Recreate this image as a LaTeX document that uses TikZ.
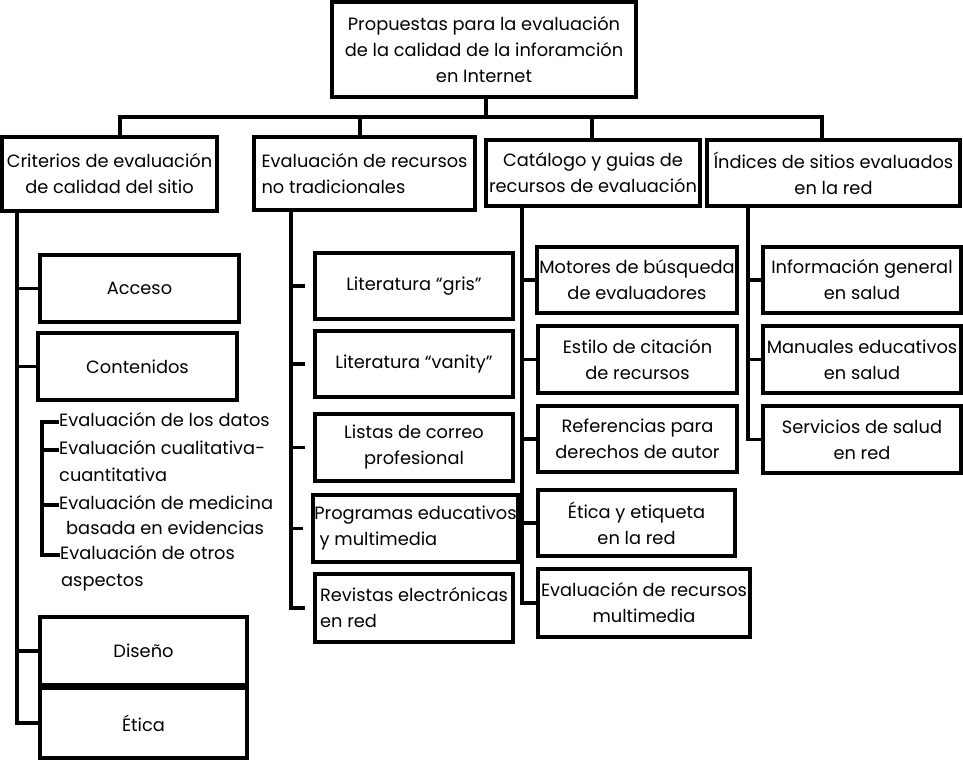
\documentclass[tikz,border=0pt]{standalone}
\usepackage{fontspec}
\setmainfont{Poppins}
\usetikzlibrary{calc}

\begin{document}
\begin{tikzpicture}[x=1pt,y=-1pt,
    caja/.style={draw, line width=3.2pt, align=center, inner sep=1pt},
    linea/.style={line width=3.4pt},
    renglon/.style={anchor=west, inner sep=0pt, text height=13pt, text depth=4pt},
    every node/.style={font=\fontsize{17.8}{26}\selectfont}]
    \useasboundingbox[fill=white] (0,0) rectangle (963,760);

    % nivel superior
    \node[caja, minimum width=304pt, minimum height=95pt] (raiz) at (484,49.5)
        {Propuestas para la evaluación\\de la calidad de la inforamción\\en Internet};

    % primer nivel
    \node[caja, minimum width=215pt, minimum height=74pt] (crit) at (109.5,174)
        {Criterios de evaluación\\de calidad del sitio};
    \node[caja, align=left, minimum width=221pt, minimum height=73pt] (evrec) at (364.5,173.5)
        {Evaluación de recursos\\no tradicionales};
    \node[caja, minimum width=214pt, minimum height=66pt] (catal) at (593,173)
        {Catálogo y guias de\\recursos de evaluación};
    \node[caja, minimum width=253pt, minimum height=66pt] (indic) at (833.5,173)
        {Índices de sitios evaluados\\en la red};

    % bus
    \coordinate (b1) at (120,117);
    \coordinate (b2) at (360,117);
    \coordinate (b3) at (592,117);
    \coordinate (b4) at (822,117);
    \draw[linea] (raiz.south -| 486,0) -- (486,117);
    \draw[linea, line cap=rect] (b1) -- (b4);
    \draw[linea] (b1) -- (b1 |- crit.north);
    \draw[linea] (b2) -- (b2 |- evrec.north);
    \draw[linea] (b3) -- (b3 |- catal.north);
    \draw[linea] (b4) -- (b4 |- indic.north);

    % criterios
    \node[caja, minimum width=199pt, minimum height=67pt] (acceso) at (139.5,288.5) {Acceso};
    \node[caja, minimum width=199pt, minimum height=67pt] (conten) at (137.5,366.5) {Contenidos};
    \node[caja, minimum width=207pt, minimum height=68pt] (diseno) at (143.5,651) {Diseño};
    \node[caja, minimum width=207pt, minimum height=70pt] (etica) at (143.5,723) {Ética};
    \coordinate (sCrit) at (17,211);
    \draw[linea] (sCrit) |- (etica.west);
    \draw[linea] (sCrit |- acceso.west) -- (acceso.west);
    \draw[linea] (sCrit |- conten.west) -- (conten.west);
    \draw[linea] (sCrit |- diseno.west) -- (diseno.west);

    % subcriterios de contenidos
    \node[renglon] (d1) at (59,422) {Evaluación de los datos};
    \node[renglon] (d2) at (59,450) {Evaluación cualitativa-};
    \node[renglon] (d2b) at (59,477) {cuantitativa};
    \node[renglon] (d3) at (59,505) {Evaluación de medicina};
    \node[renglon] (d3b) at (66,530) {basada en evidencias};
    \node[renglon] (d4) at (60,555) {Evaluación de otros};
    \node[renglon] (d4b) at (61,582) {aspectos};
    \coordinate (brk) at (42,490);
    \draw[linea] (d1.west) -| (brk) |- (d4.west);
    \draw[linea] (brk |- d2.west) -- (d2.west);
    \draw[linea] (brk |- d3.west) -- (d3.west);

    % recursos no tradicionales
    \node[caja, minimum width=198pt, minimum height=66pt] (gris) at (414,286) {Literatura “gris”};
    \node[caja, minimum width=198pt, minimum height=66pt] (vanity) at (414,364) {Literatura “vanity”};
    \node[caja, minimum width=198pt, minimum height=67pt] (listas) at (414,447.5)
        {Listas de correo\\profesional};
    \node[caja, align=left, minimum width=205pt, minimum height=67pt] (progr) at (415.5,528.5)
        {Programas educativos\\\hspace{0.3em}y multimedia};
    \node[caja, align=left, minimum width=198pt, minimum height=68pt] (revist) at (414,608)
        {Revistas electrónicas\\en red};
    \coordinate (sEval) at (291,210);
    \draw[linea, shorten >=8pt] (sEval) |- (revist.west);
    \foreach \n in {gris,vanity,listas,progr}
        \draw[linea, shorten >=8pt] (sEval |- \n.west) -- (\n.west);

    % catalogo y guias
    \node[caja, minimum width=200pt, minimum height=66pt] (motores) at (637,280)
        {Motores de búsqueda\\de evaluadores};
    \node[caja, minimum width=199pt, minimum height=67pt] (estilo) at (637.5,359.5)
        {Estilo de citación\\de recursos};
    \node[caja, minimum width=199pt, minimum height=66pt] (refer) at (637.5,439)
        {Referencias para\\derechos de autor};
    \node[caja, minimum width=197pt, minimum height=66pt] (eticar) at (636.5,523)
        {Ética y etiqueta\\en la red};
    \node[caja, minimum width=212pt, minimum height=68pt] (evmult) at (644,603)
        {Evaluación de recursos\\multimedia};
    \coordinate (sCat) at (522,206);
    \draw[linea] (sCat) |- (evmult.west);
    \foreach \n in {motores,estilo,refer,eticar}
        \draw[linea] (sCat |- \n.west) -- (\n.west);

    % indices
    \node[caja, minimum width=198pt, minimum height=66pt] (infog) at (862,280)
        {Información general\\en salud};
    \node[caja, minimum width=198pt, minimum height=67pt] (manual) at (862,359.5)
        {Manuales educativos\\en salud};
    \node[caja, minimum width=198pt, minimum height=67pt] (servic) at (862,439.5)
        {Servicios de salud\\en red};
    \coordinate (sInd) at (748,206);
    \draw[linea] (sInd) |- (servic.west);
    \foreach \n in {infog,manual}
        \draw[linea] (sInd |- \n.west) -- (\n.west);
\end{tikzpicture}
\end{document}
